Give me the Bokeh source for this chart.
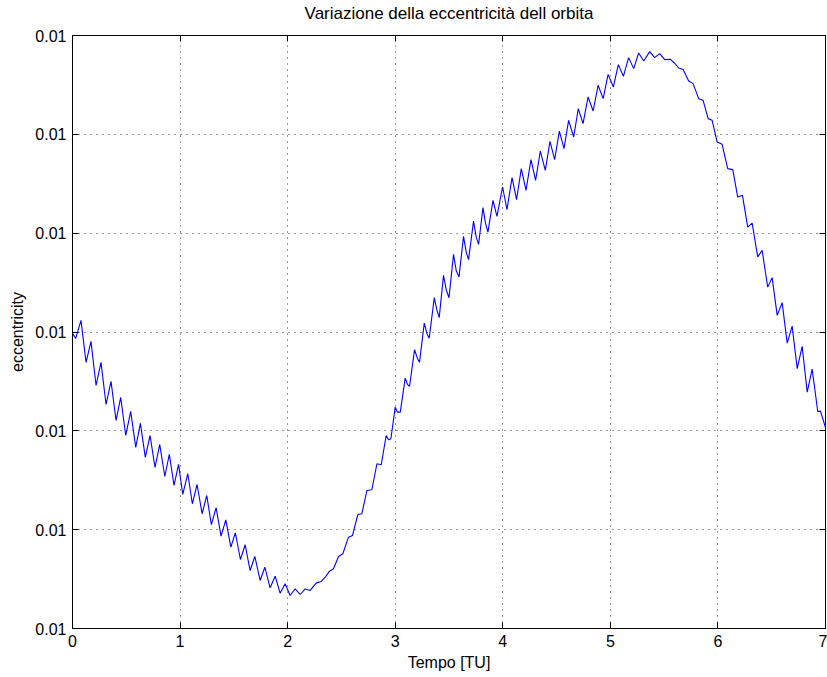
from bokeh.plotting import figure
from bokeh.models import (LinearAxis, FixedTicker, PrintfTickFormatter, Range1d)
from bokeh.embed import file_html
from bokeh.resources import INLINE

# Orbit eccentricity vs time (time in TU)
tempo = [
    0.000, 0.030, 0.079, 0.126, 0.172, 0.219, 0.265, 0.312, 0.358, 0.405, 0.448, 0.495,
    0.541, 0.588, 0.631, 0.677, 0.721, 0.767, 0.811, 0.858, 0.900, 0.944, 0.986,
    1.025, 1.072, 1.114, 1.158, 1.205, 1.248, 1.291, 1.335, 1.381, 1.425, 1.472, 1.514,
    1.561, 1.605, 1.651, 1.695, 1.744, 1.788, 1.837, 1.884, 1.930, 1.977, 2.023, 2.070,
    2.116, 2.163, 2.209,
    2.265, 2.312, 2.349, 2.389, 2.426, 2.473, 2.513, 2.566, 2.603, 2.653, 2.690, 2.737,
    2.783, 2.830, 2.870,
    2.916, 2.938, 2.960, 3.000, 3.021, 3.047, 3.093, 3.114, 3.133, 3.180, 3.207, 3.226,
    3.270, 3.295, 3.316, 3.363, 3.388, 3.409, 3.449, 3.474, 3.500, 3.542, 3.567, 3.593,
    3.635, 3.660, 3.682, 3.728, 3.753, 3.775, 3.816, 3.840, 3.862, 3.909, 3.946,
    3.998, 4.039, 4.086, 4.128, 4.172, 4.216, 4.262, 4.305, 4.349, 4.395, 4.439, 4.482,
    4.526, 4.569, 4.612, 4.659, 4.702, 4.746, 4.793, 4.840, 4.886, 4.933, 4.979, 5.028,
    5.074, 5.121, 5.170, 5.217, 5.263,
    5.310, 5.366, 5.412, 5.459, 5.505, 5.558, 5.595, 5.635, 5.677, 5.728, 5.769, 5.821,
    5.862, 5.909, 5.946, 5.993, 6.039, 6.091, 6.138, 6.184, 6.228,
    6.277, 6.318, 6.370, 6.411, 6.463, 6.504, 6.551, 6.597, 6.644, 6.690, 6.737, 6.783,
    6.830, 6.876, 6.928, 6.953, 7.000,
]

eccentricity = [
    0.01002986, 0.01002935, 0.01003117, 0.01002692, 0.01002905, 0.01002459, 0.01002692,
    0.01002267, 0.01002500, 0.01002105, 0.01002338, 0.01001953, 0.01002196, 0.01001832,
    0.01002075, 0.01001731, 0.01001953, 0.01001630, 0.01001862, 0.01001538, 0.01001761,
    0.01001447, 0.01001660,
    0.01001356, 0.01001566, 0.01001262, 0.01001457, 0.01001161, 0.01001346, 0.01001050,
    0.01001222, 0.01000934, 0.01001100, 0.01000823, 0.01000969, 0.01000698, 0.01000847,
    0.01000587, 0.01000729, 0.01000486, 0.01000620, 0.01000412, 0.01000529, 0.01000357,
    0.01000452, 0.01000334, 0.01000402, 0.01000344, 0.01000400, 0.01000385,
    0.01000459, 0.01000476, 0.01000519, 0.01000580, 0.01000604, 0.01000729, 0.01000756,
    0.01000924, 0.01000941, 0.01001154, 0.01001161, 0.01001397, 0.01001404, 0.01001667,
    0.01001657,
    0.01001953, 0.01001910, 0.01001920, 0.01002240, 0.01002189, 0.01002189, 0.01002533,
    0.01002470, 0.01002449, 0.01002821, 0.01002730, 0.01002695, 0.01003090, 0.01002983,
    0.01002938, 0.01003347, 0.01003219, 0.01003145, 0.01003573, 0.01003428, 0.01003347,
    0.01003785, 0.01003623, 0.01003556, 0.01003968, 0.01003809, 0.01003732, 0.01004122,
    0.01003960, 0.01003887, 0.01004258, 0.01004096, 0.01004011, 0.01004332, 0.01004170,
    0.01004467, 0.01004238, 0.01004562, 0.01004339, 0.01004653, 0.01004433, 0.01004744,
    0.01004534, 0.01004831, 0.01004636, 0.01004929, 0.01004744, 0.01005033, 0.01004855,
    0.01005142, 0.01004973, 0.01005260, 0.01005108, 0.01005378, 0.01005236, 0.01005496,
    0.01005361, 0.01005607, 0.01005479, 0.01005705, 0.01005587, 0.01005776, 0.01005665,
    0.01005823,
    0.01005742, 0.01005837, 0.01005776, 0.01005817, 0.01005756, 0.01005759, 0.01005722,
    0.01005671, 0.01005655, 0.01005540, 0.01005513, 0.01005361, 0.01005344, 0.01005159,
    0.01005142, 0.01004922, 0.01004899, 0.01004653, 0.01004643, 0.01004365, 0.01004383,
    0.01004062, 0.01004102, 0.01003760, 0.01003826, 0.01003454, 0.01003550, 0.01003168,
    0.01003297, 0.01002888, 0.01003060, 0.01002629, 0.01002854, 0.01002392, 0.01002624,
    0.01002196, 0.01002199, 0.01002034,
]

x_ticks = [0, 1, 2, 3, 4, 5, 6, 7]
y_ticks = [0.01000, 0.01001, 0.01002, 0.01003, 0.01004, 0.01005, 0.01006]

FONT = "Liberation Sans"
FS = "16px"

p = figure(
    width=827, height=677,
    output_backend="svg", toolbar_location=None,
    x_range=Range1d(0, 7), y_range=Range1d(0.01000, 0.01006),
    min_border_left=72, min_border_right=2, min_border_top=35, min_border_bottom=49,
    title="Variazione della eccentricità dell orbita",
)
p.background_fill_color = "white"
p.border_fill_color = "white"
p.outline_line_color = "black"
p.outline_line_width = 1

p.title.align = "center"
p.title.text_font = FONT
p.title.text_font_size = "17px"
p.title.text_font_style = "normal"
p.title.text_color = "black"
p.title.standoff = 0

xa = p.xaxis[0]
ya = p.yaxis[0]
xa.ticker = FixedTicker(ticks=x_ticks)
ya.ticker = FixedTicker(ticks=y_ticks)
ya.formatter = PrintfTickFormatter(format="%.2f")
xa.axis_label = "Tempo [TU]"
ya.axis_label = "eccentricity"
for ax in (xa, ya):
    ax.major_tick_in = 6
    ax.major_tick_out = 0
    ax.minor_tick_line_color = None
    ax.major_label_text_font = FONT
    ax.major_label_text_font_size = FS
    ax.major_label_text_color = "black"
    ax.axis_label_text_font = FONT
    ax.axis_label_text_font_size = FS
    ax.axis_label_text_font_style = "normal"
    ax.axis_label_text_color = "black"
    ax.axis_line_color = "black"
    ax.major_tick_line_color = "black"
xa.major_label_standoff = 6
xa.axis_label_standoff = 4
ya.major_label_standoff = 6
ya.axis_label_standoff = 6

# tick marks on the opposite sides of the box, without labels
top = LinearAxis(ticker=FixedTicker(ticks=x_ticks), major_tick_in=6, major_tick_out=0,
                 minor_tick_line_color=None, major_label_text_font_size="1px",
                 major_label_text_color=None,
                 major_label_standoff=0, axis_line_color="black")
right = LinearAxis(ticker=FixedTicker(ticks=y_ticks), major_tick_in=6, major_tick_out=0,
                   minor_tick_line_color=None, major_label_text_font_size="1px",
                   major_label_text_color=None,
                   major_label_standoff=0, axis_line_color="black")
# empty band that keeps the title a little above the box
gap = LinearAxis(ticker=FixedTicker(ticks=x_ticks), major_tick_in=0, major_tick_out=13,
                 major_tick_line_color=None, minor_tick_line_color=None,
                 major_label_text_font_size="1px", major_label_text_color=None,
                 major_label_standoff=0, axis_line_color=None)
p.add_layout(top, "above")
p.add_layout(gap, "above")
p.add_layout(right, "right")

for g in (p.xgrid[0], p.ygrid[0]):
    g.grid_line_color = "black"
    g.grid_line_dash = "1 5"
    g.grid_line_alpha = 0.8
    g.grid_line_width = 1
p.xgrid[0].ticker = FixedTicker(ticks=x_ticks)
p.ygrid[0].ticker = FixedTicker(ticks=y_ticks)

p.line(tempo, eccentricity, line_color="#0000ff", line_width=1.1)

open("out.html", "w").write(file_html(p, INLINE))
